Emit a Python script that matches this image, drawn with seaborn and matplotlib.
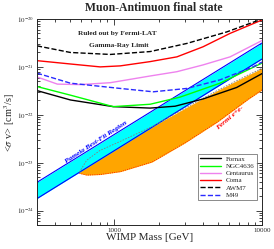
import numpy as np
import pandas as pd
import matplotlib
matplotlib.use("Agg")
import matplotlib.pyplot as plt
import seaborn as sns
from matplotlib.ticker import LogLocator, NullFormatter, FixedLocator, FixedFormatter

# cluster limits, mass in GeV, <sigma v> in cm^3/s
fornax_m = [300, 505, 984, 1750, 2580, 3990, 6740, 10000]
fornax_sv = [3.2e-22, 2.04e-22, 1.48e-22, 1.38e-22, 1.51e-22, 2.14e-22, 3.72e-22, 7.24e-22]

ngc4636_m = [300, 505, 984, 1750, 2790, 5200, 10000]
ngc4636_sv = [3.89e-22, 2.57e-22, 1.48e-22, 1.66e-22, 2.34e-22, 4.57e-22, 1.2e-21]

centaurus_m = [300, 412, 589, 940, 1750, 2655, 3990, 6080, 10000]
centaurus_sv = [6.17e-22, 4.37e-22, 4.27e-22, 4.68e-22, 6.46e-22, 7.94e-22, 1.1e-21, 1.62e-21, 3.55e-21]

coma_m = [300, 505, 803, 1098, 1750, 2655, 3990, 6080, 10000]
coma_sv = [1.35e-21, 1.15e-21, 1.0e-21, 1.05e-21, 1.29e-21, 1.62e-21, 2.63e-21, 5.01e-21, 9.55e-21]

awm7_m = [300, 505, 940, 1750, 3100, 5770, 10000]
awm7_sv = [2.75e-21, 2.0e-21, 1.82e-21, 2.09e-21, 3.09e-21, 5.37e-21, 1.0e-20]

m49_m = [300, 505, 1098, 1836, 3100, 5200, 8690, 10000]
m49_sv = [7.41e-22, 4.57e-22, 3.55e-22, 3.02e-22, 3.55e-22, 5.37e-22, 1.0e-21, 1.26e-21]

# best-fit regions
pamela_m = [300, 10000]
pamela_lo = [1.78e-24, 1.46e-21]
pamela_hi = [3.89e-24, 3.16e-21]

fermi_m = [580, 650, 800, 1100, 1800, 3000, 5000, 8000, 10000]
fermi_lo = [6.0e-24, 5.5e-24, 5.65e-24, 6.5e-24, 1.03e-23, 2.57e-23, 7.1e-23, 2.07e-22, 3.3e-22]
fermi_hi = [6.3e-24, 1.12e-23, 1.8e-23, 2.79e-23, 5.65e-23, 1.36e-22, 3.24e-22, 6.7e-22, 9.35e-22]

y_ticks = [1e-24, 1e-23, 1e-22, 1e-21, 1e-20]

sns.set_style("ticks")
plt.rcParams['font.family'] = ['serif']
plt.rcParams['font.serif'] = ['Liberation Serif', 'DejaVu Serif']
plt.rcParams['mathtext.fontset'] = 'stix'

fig = plt.figure(figsize=(2.74, 2.49), dpi=100)
ax = fig.add_axes([37/274, 24/249, 225/274, 206/249])

# Fermi e+e- region
ax.fill_between(fermi_m, fermi_lo, fermi_hi, color="orange", lw=0)
ax.plot(fermi_m, fermi_lo, color="red", ls=":", lw=0.6)

# Pamela region
ax.fill_between(pamela_m, pamela_lo, pamela_hi, color="cyan", lw=0)
ax.plot(pamela_m, pamela_lo, color="blue", lw=0.8)
ax.plot(pamela_m, pamela_hi, color="blue", lw=0.8)
ax.plot(fermi_m, fermi_hi, color="gray", ls="--", lw=0.6, dashes=(2, 1.5))

series = [
    ("Fornax", fornax_m, fornax_sv, "black", "-"),
    ("NGC4636", ngc4636_m, ngc4636_sv, "lime", "-"),
    ("Centaurus", centaurus_m, centaurus_sv, "violet", "-"),
    ("Coma", coma_m, coma_sv, "red", "-"),
    ("AWM7", awm7_m, awm7_sv, "black", "--"),
    ("M49", m49_m, m49_sv, "#2a2aff", "--"),
]
for name, m, sv, col, ls in series:
    df = pd.DataFrame({"mass": m, "sv": sv})
    sns.lineplot(data=df, x="mass", y="sv", color=col, linestyle=ls, lw=1.0,
                 label=name, ax=ax, sort=False)

ax.set_xscale("log")
ax.set_yscale("log")
ax.set_xlim(300, 10000)
ax.set_ylim(5e-25, 1e-20)

ax.xaxis.set_major_locator(FixedLocator([1000, 10000]))
ax.xaxis.set_major_formatter(FixedFormatter(["1000", "10000"]))
ax.xaxis.set_minor_locator(LogLocator(base=10, subs=np.arange(2, 10), numticks=20))
ax.xaxis.set_minor_formatter(NullFormatter())
ax.yaxis.set_major_locator(FixedLocator(y_ticks))
ax.yaxis.set_major_formatter(FixedFormatter([r"$10^{%d}$" % int(round(np.log10(v))) for v in y_ticks]))
ax.yaxis.set_minor_locator(LogLocator(base=10, subs=np.arange(2, 10), numticks=20))
ax.yaxis.set_minor_formatter(NullFormatter())
ax.tick_params(which="both", direction="in", top=True, right=True, width=0.6, labelsize=5, pad=2)
ax.tick_params(which="major", length=4)
ax.tick_params(which="minor", length=2)
for sp in ax.spines.values():
    sp.set_linewidth(0.7)

ax.set_xlabel("WIMP Mass [GeV]", fontsize=8, labelpad=0)
ax.set_ylabel(r"<$\sigma$ v> [cm$^3$/s]", fontsize=7.5)
ax.yaxis.set_label_coords(-0.088, 0.5)
fig.text(0.56, 0.968, "Muon-Antimuon final state", ha="center", va="center",
         fontsize=8.5, fontweight="bold")

ax.text(0.355, 0.93, "Ruled out by Fermi-LAT", transform=ax.transAxes, ha="center",
        va="center", fontsize=5.3, fontweight="bold")
ax.text(0.365, 0.87, "Gamma-Ray Limit", transform=ax.transAxes, ha="center",
        va="center", fontsize=5.3, fontweight="bold")
ax.text((96.5-37)/225, (225-142.5)/206, "Pamela Best-Fit Region", transform=ax.transAxes,
        ha="center", va="center", rotation=33, fontsize=5.3, fontweight="bold",
        fontstyle="italic", color="blue")
ax.text((230-37)/225, (225-118)/206, "Fermi e+e-", transform=ax.transAxes,
        ha="center", va="center", rotation=40, fontsize=5.3, fontweight="bold",
        fontstyle="italic", color="red")

leg = ax.legend(loc="lower right", bbox_to_anchor=(0.978, 0.121), borderaxespad=0,
                fontsize=5, frameon=True, fancybox=False, handlelength=3.0,
                handletextpad=0.8, labelspacing=0.2, borderpad=0.3)
leg.get_frame().set_edgecolor("#555555")
leg.get_frame().set_linewidth(0.6)

fig.savefig("out.png", dpi=100)
